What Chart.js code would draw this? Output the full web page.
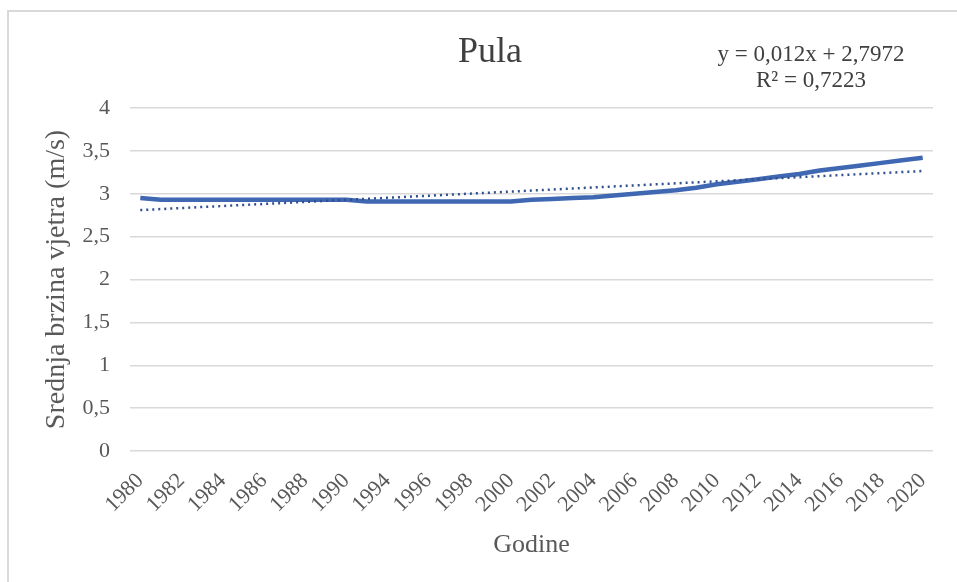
<!DOCTYPE html>
<html>
<head>
<meta charset="utf-8">
<script src="https://cdn.jsdelivr.net/npm/chart.js@4.4.0/dist/chart.umd.min.js"></script>
<style>
    html, body { margin: 0; padding: 0; background: #fff; overflow: hidden; }
    #wrap { position: relative; width: 957px; height: 582px; }
    #frame { position: absolute; left: 7px; top: 10px; width: 1000px; height: 600px;
             border-left: 2px solid #d9d9d9; border-top: 2px solid #d9d9d9; }
    canvas { position: absolute; left: 0; top: 0; }
</style>
</head>
<body>
<div id="wrap">
    <div id="frame"></div>
    <canvas id="myChart" width="957" height="582"></canvas>
</div>
<script>
// godine (1991, 1992 nema podataka)
const years = ['1980', '1981', '1982', '1983', '1984', '1985', '1986', '1987', '1988', '1989', '1990',
    '1993', '1994', '1995', '1996', '1997', '1998', '1999', '2000', '2001', '2002', '2003', '2004',
    '2005', '2006', '2007', '2008', '2009', '2010', '2011', '2012', '2013', '2014', '2015', '2016',
    '2017', '2018', '2019', '2020'];
const windSpeed = [2.95, 2.93, 2.93, 2.93, 2.93, 2.93, 2.93, 2.93, 2.93, 2.93, 2.93,
    2.91, 2.91, 2.91, 2.91, 2.91, 2.91, 2.91, 2.91, 2.93, 2.94, 2.95, 2.96,
    2.98, 3.00, 3.02, 3.04, 3.07, 3.11, 3.14, 3.17, 3.20, 3.23, 3.27, 3.30,
    3.33, 3.36, 3.39, 3.42];
const yTicks = [0, 0.5, 1, 1.5, 2, 2.5, 3, 3.5, 4];

// linearni trend iz Excela
const trendSlope = 0.012;
const trendIntercept = 2.7972;
const trendText = ['y = 0,012x + 2,7972', 'R² = 0,7223'];

const trend = years.map((y, i) => trendSlope * (i + 1) + trendIntercept);

// naslov i jednadzba trenda
const textPlugin = {
    id: 'chartText',
    afterDraw(chart) {
        const ctx = chart.ctx;
        ctx.save();
        ctx.textAlign = 'center';
        ctx.textBaseline = 'middle';
        ctx.fillStyle = '#404040';
        ctx.font = '36px "Liberation Serif"';
        ctx.fillText('Pula', 490, 53);
        ctx.font = '23px "Liberation Serif"';
        ctx.fillText(trendText[0], 811, 55);
        ctx.fillText(trendText[1], 811, 81);
        ctx.restore();
    }
};

const ctx = document.getElementById('myChart').getContext('2d');
new Chart(ctx, {
    type: 'line',
    data: {
        labels: years,
        datasets: [{
            label: 'Pula',
            data: windSpeed,
            borderColor: '#3F67B2',
            borderWidth: 4.5,
            pointRadius: 0,
            tension: 0,
            fill: false,
            order: 2
        },
        {
            label: 'Linear (Pula)',
            data: trend,
            borderColor: '#2F4F8F',
            borderWidth: 2.5,
            borderDash: [2, 4],
            pointRadius: 0,
            fill: false,
            order: 1
        }]
    },
    options: {
        responsive: false,
        animation: false,
        layout: { padding: { left: 40, right: 24, top: 108, bottom: 21 } },
        plugins: {
            legend: { display: false },
            tooltip: { enabled: false },
            title: { display: false }
        },
        scales: {
            x: {
                offset: true,
                grid: { display: false },
                border: { display: false },
                ticks: {
                    autoSkip: false,
                    minRotation: 45,
                    maxRotation: 45,
                    padding: 9,
                    color: '#595959',
                    font: { family: 'Liberation Serif', size: 22 },
                    callback: function (val, i) { return i % 2 === 0 ? this.getLabelForValue(val) : ''; }
                },
                title: {
                    display: true,
                    text: 'Godine',
                    color: '#595959',
                    font: { family: 'Liberation Serif', size: 26 },
                    padding: { top: 3, bottom: 0 }
                }
            },
            y: {
                min: 0,
                max: 4,
                afterBuildTicks: (axis) => { axis.ticks = yTicks.map(v => ({ value: v })); },
                afterFit: (axis) => { axis.width = 90; },
                grid: { color: '#d9d9d9', lineWidth: 1.5, drawTicks: false },
                border: { display: false },
                ticks: {
                    padding: 20,
                    color: '#595959',
                    font: { family: 'Liberation Serif', size: 22 },
                    callback: (v) => String(v).replace('.', ',')
                },
                title: {
                    display: true,
                    text: 'Srednja brzina vjetra (m/s)',
                    color: '#595959',
                    font: { family: 'Liberation Serif', size: 28 },
                    padding: { top: 0, bottom: 4 }
                }
            }
        }
    },
    plugins: [textPlugin]
});
</script>
</body>
</html>
